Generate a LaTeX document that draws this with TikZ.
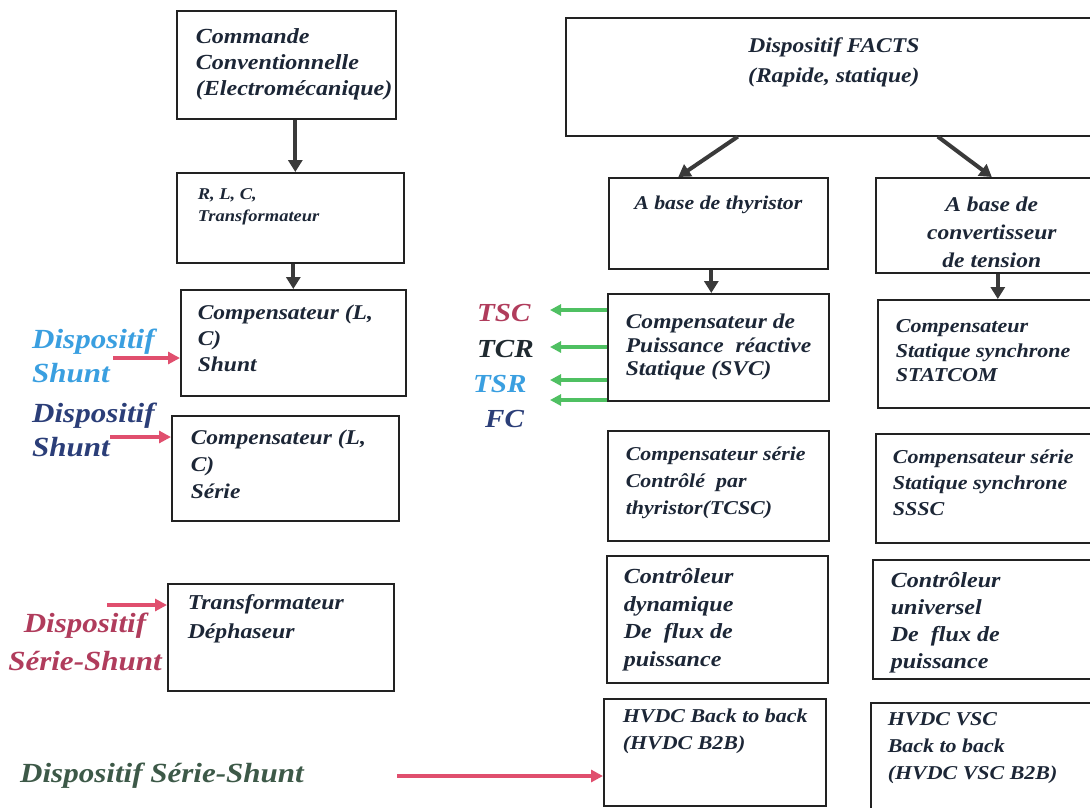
\documentclass[tikz,border=0pt]{standalone}
\usepackage{fontspec}
\setmainfont{Liberation Serif}[FakeStretch=1.12]
\usepackage{tikz}
\usetikzlibrary{arrows.meta, calc}
\definecolor{Encre}   {HTML}{1C2636}
\definecolor{Trait}   {HTML}{222222}
\definecolor{Gris}    {HTML}{3A3A3A}
\definecolor{Rose}    {HTML}{E04F6E}
\definecolor{Vert}    {HTML}{4FC062}
\definecolor{Ciel}    {HTML}{3A9FE0}
\definecolor{Marine}  {HTML}{2B3E78}
\definecolor{Cramoisi}{HTML}{B03C5C}
\definecolor{Olive}   {HTML}{3D5948}
\definecolor{Noir}    {HTML}{1F2A30}
\tikzset{
  fleche/.style={-{Triangle[length=12pt,width=14pt]}, line width=4pt, Gris},
  fleche rose/.style={-{Triangle[length=12pt,width=12pt]}, line width=4pt, Rose},
  fleche verte/.style={-{Triangle[length=11pt,width=11pt]}, line width=4pt, Vert},
}
\newcommand{\taille}[2]{\fontsize{#1}{#2}\selectfont\bfseries\itshape}
\newcommand{\gauche}[1]{\raggedright\leftskip=#1pt}
% box text: width, height, first baseline, alignment, text
\newcommand{\cadre}[5]{\parbox[t][#2pt][t]{#1pt}{\vskip\dimexpr#3pt-\baselineskip\relax\hbox{}#4#5\par}}

\begin{document}
\begin{tikzpicture}[x=1pt, y=-1pt,
    boite/.style={draw=Trait, line width=1.6pt, inner sep=0pt,
                  anchor=north west, text=Encre},
    etiq/.style={font=\taille{27.7}{34}, inner sep=0pt},
    sigle/.style={font=\taille{26}{30}, inner sep=0pt, anchor=base west}]
  \useasboundingbox (0,0) rectangle (1090,807);
  \clip (0,0) rectangle (1090,807);
  % Conventional branch
  \node[boite, font=\taille{21.5}{26}] (cmd) at (176,10)
    {\cadre{219}{108}{33}{\gauche{19}}{Commande\\Conventionnelle\\(Electromécanique)}};
  \node[boite, font=\taille{16.5}{22}] (rlc) at (176,172)
    {\cadre{227}{90}{27}{\gauche{21}}{R, L, C,\\Transformateur}};
  \node[boite, font=\taille{21}{26}] (cshunt) at (180,289)
    {\cadre{225}{106}{30}{\gauche{17}}{Compensateur (L,\\C)\\Shunt}};
  \node[boite, font=\taille{21}{27}] (cserie) at (171,415)
    {\cadre{227}{105}{29}{\gauche{19}}{Compensateur (L,\\C)\\Série}};
  \node[boite, font=\taille{21.2}{29}] (dephas) at (167,583)
    {\cadre{226}{107}{26}{\gauche{20}}{Transformateur\\Déphaseur}};
  % FACTS branch
  \node[boite, font=\taille{21}{30}] (facts) at (565,17)
    {\cadre{536}{118}{35}{\centering}{Dispositif FACTS\\(Rapide, statique)}};
  \node[boite, font=\taille{19.5}{26}] (thy) at (608,177)
    {\cadre{219}{91}{32}{\centering}{A base de thyristor}};
  \node[boite, font=\taille{21}{28}] (conv) at (875,177)
    {\cadre{232}{95}{34}{\centering}{A base de\\convertisseur\\de tension}};
  \node[boite, font=\taille{21}{23.5}] (svc) at (607,293)
    {\cadre{221}{107}{35}{\gauche{18}}{Compensateur de\\Puissance~~réactive\\Statique (SVC)}};
  \node[boite, font=\taille{19.7}{24.5}] (statcom) at (877,299)
    {\cadre{230}{108}{33}{\gauche{18}}{Compensateur\\Statique synchrone\\STATCOM}};
  \node[boite, font=\taille{19.6}{27}] (tcsc) at (607,430)
    {\cadre{221}{110}{30}{\gauche{18}}{Compensateur série\\Contrôlé~~par\\thyristor(TCSC)}};
  \node[boite, font=\taille{19.7}{26}] (sssc) at (875,433)
    {\cadre{230}{109}{30}{\gauche{17}}{Compensateur série\\Statique synchrone\\SSSC}};
  \node[boite, font=\taille{21.5}{27.5}] (cdyn) at (606,555)
    {\cadre{221}{127}{28}{\gauche{17}}{Contrôleur\\dynamique\\De~~flux de\\puissance}};
  \node[boite, font=\taille{21.5}{27}] (cuniv) at (872,559)
    {\cadre{230}{119}{28}{\gauche{18}}{Contrôleur\\universel\\De~~flux de\\puissance}};
  \node[boite, font=\taille{19.6}{27}] (b2b) at (603,698)
    {\cadre{222}{107}{24}{\gauche{19}}{HVDC Back to back\\(HVDC B2B)}};
  \node[boite, font=\taille{19.6}{27}] (vsc) at (870,702)
    {\cadre{230}{110}{23}{\gauche{17}}{HVDC VSC\\Back to back\\(HVDC VSC B2B)}};
  % Arrows
  \draw[fleche] ($(cmd.south)+(9,0)$) -- ($(rlc.north)+(5,0)$);
  \draw[fleche] (rlc.south -| cshunt.north) -- (cshunt.north);
  \draw[fleche] ($(facts.south)+(-96,0)$) -- ($(thy.north)+(-40,0)$);
  \draw[fleche] ($(facts.south)+(104,0)$) -- (conv.north);
  \draw[fleche] ($(thy.south)+(-7,0)$) -- ($(svc.north)+(-7,0)$);
  \draw[fleche] ($(conv.south)+(6,0)$) -- ($(statcom.north)+(5,0)$);
  % Labels
  \node[etiq, text=Ciel, align=left, anchor=west] (lshunt) at (32,356) {Dispositif\\Shunt};
  \node[etiq, text=Marine, align=left, anchor=west] (lserie) at (32,430) {Dispositif\\Shunt};
  \node[etiq, font=\taille{27.7}{38}, text=Cramoisi, align=center] (ldephas) at (85,642) {Dispositif\\Série-Shunt};
  \node[etiq, text=Olive, anchor=base west] (lhvdc) at (20,782) {Dispositif Série-Shunt};
  \node[sigle, text=Cramoisi] (tsc) at (477,321) {TSC};
  \node[sigle, text=Noir]     (tcr) at (477,357) {TCR};
  \node[sigle, text=Ciel]     (tsr) at (473,392) {TSR};
  \node[sigle, text=Marine]   (fc)  at (485,427) {FC};
  % Pink arrows
  \coordinate (p1) at (113,358);
  \coordinate (p2) at (110,437);
  \coordinate (p3) at (107,605);
  \coordinate (p4) at (397,776);
  \draw[fleche rose] (p1) -- (p1 -| cshunt.west);
  \draw[fleche rose] (p2) -- (p2 -| cserie.west);
  \draw[fleche rose] (p3) -- (p3 -| dephas.west);
  \draw[fleche rose] (p4) -- (p4 -| b2b.west);
  % Green arrows
  \coordinate (g1) at (550,310);
  \coordinate (g2) at (550,347);
  \coordinate (g3) at (550,380);
  \coordinate (g4) at (550,400);
  \draw[fleche verte] (g1 -| svc.west) -- (g1);
  \draw[fleche verte] (g2 -| svc.west) -- (g2);
  \draw[fleche verte] (g3 -| svc.west) -- (g3);
  \draw[fleche verte] (g4 -| svc.west) -- (g4);
\end{tikzpicture}
\end{document}
